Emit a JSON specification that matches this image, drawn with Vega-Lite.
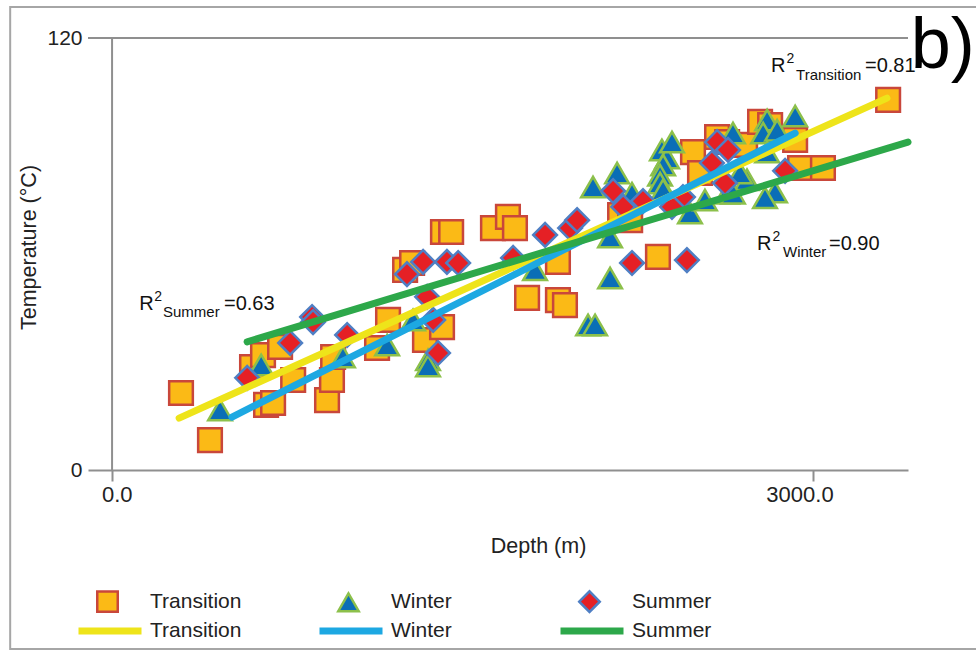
{
  "$schema": "https://vega.github.io/schema/vega-lite/v6.json",
  "width": 820,
  "height": 432,
  "autosize": {"type": "none"},
  "padding": {"left": 88, "top": 38, "right": 68, "bottom": 180},
  "background": "white",
  "config": {
    "view": {"stroke": null},
    "font": "Liberation Sans",
    "axisX": {"domainColor": "#8f8f8f", "domainWidth": 2, "tickColor": "#8f8f8f", "tickWidth": 2, "tickSize": 11, "labelFont": "Liberation Sans", "labelFontSize": 22, "labelColor": "#222", "grid": false, "titleFont": "Liberation Sans", "titleFontSize": 21.5, "titleFontWeight": "normal", "titleColor": "#222", "labelAlign": "right", "labelOffset": 20, "labelPadding": 3, "labelBaseline": "top", "labelFlush": false},
    "axisY": {"domain": false, "ticks": false, "grid": false, "labelFont": "Liberation Sans", "labelFontSize": 21, "labelColor": "#222", "labelPadding": 6, "titleFont": "Liberation Sans", "titleFontSize": 21.5, "titleFontWeight": "normal", "titleColor": "#222"}
  },
  "datasets": {
    "points": [
      {"season": "Transition", "depth": 295, "temp": 21.4},
      {"season": "Transition", "depth": 419, "temp": 8.3},
      {"season": "Transition", "depth": 599, "temp": 28.6},
      {"season": "Transition", "depth": 646, "temp": 31.9},
      {"season": "Transition", "depth": 719, "temp": 34.2},
      {"season": "Transition", "depth": 659, "temp": 18.1},
      {"season": "Transition", "depth": 689, "temp": 18.6},
      {"season": "Transition", "depth": 775, "temp": 25.0},
      {"season": "Transition", "depth": 920, "temp": 19.4},
      {"season": "Transition", "depth": 941, "temp": 25.0},
      {"season": "Transition", "depth": 946, "temp": 31.4},
      {"season": "Transition", "depth": 1134, "temp": 33.9},
      {"season": "Transition", "depth": 1181, "temp": 41.7},
      {"season": "Transition", "depth": 1339, "temp": 36.1},
      {"season": "Transition", "depth": 1412, "temp": 39.7},
      {"season": "Transition", "depth": 1254, "temp": 55.6},
      {"season": "Transition", "depth": 1284, "temp": 57.5},
      {"season": "Transition", "depth": 1416, "temp": 66.1},
      {"season": "Transition", "depth": 1451, "temp": 66.1},
      {"season": "Transition", "depth": 1630, "temp": 67.2},
      {"season": "Transition", "depth": 1694, "temp": 70.3},
      {"season": "Transition", "depth": 1724, "temp": 67.2},
      {"season": "Transition", "depth": 1908, "temp": 57.8},
      {"season": "Transition", "depth": 1776, "temp": 47.8},
      {"season": "Transition", "depth": 1908, "temp": 47.2},
      {"season": "Transition", "depth": 1938, "temp": 45.8},
      {"season": "Transition", "depth": 2336, "temp": 59.2},
      {"season": "Transition", "depth": 2174, "temp": 70.8},
      {"season": "Transition", "depth": 2217, "temp": 69.4},
      {"season": "Transition", "depth": 2486, "temp": 88.3},
      {"season": "Transition", "depth": 2516, "temp": 82.5},
      {"season": "Transition", "depth": 2589, "temp": 92.5},
      {"season": "Transition", "depth": 2632, "temp": 91.1},
      {"season": "Transition", "depth": 2709, "temp": 90.3},
      {"season": "Transition", "depth": 2773, "temp": 96.7},
      {"season": "Transition", "depth": 2816, "temp": 95.8},
      {"season": "Transition", "depth": 2923, "temp": 91.7},
      {"season": "Transition", "depth": 2944, "temp": 83.9},
      {"season": "Transition", "depth": 3042, "temp": 83.9},
      {"season": "Transition", "depth": 3321, "temp": 102.8},
      {"season": "Winter", "depth": 462, "temp": 16.7},
      {"season": "Winter", "depth": 638, "temp": 29.2},
      {"season": "Winter", "depth": 988, "temp": 31.4},
      {"season": "Winter", "depth": 1177, "temp": 34.7},
      {"season": "Winter", "depth": 1352, "temp": 30.6},
      {"season": "Winter", "depth": 1352, "temp": 28.9},
      {"season": "Winter", "depth": 1288, "temp": 41.7},
      {"season": "Winter", "depth": 1810, "temp": 55.6},
      {"season": "Winter", "depth": 2058, "temp": 78.6},
      {"season": "Winter", "depth": 2161, "temp": 82.5},
      {"season": "Winter", "depth": 2131, "temp": 64.7},
      {"season": "Winter", "depth": 2131, "temp": 53.3},
      {"season": "Winter", "depth": 2037, "temp": 40.3},
      {"season": "Winter", "depth": 2067, "temp": 40.3},
      {"season": "Winter", "depth": 2225, "temp": 76.9},
      {"season": "Winter", "depth": 2353, "temp": 88.9},
      {"season": "Winter", "depth": 2375, "temp": 86.7},
      {"season": "Winter", "depth": 2396, "temp": 91.1},
      {"season": "Winter", "depth": 2358, "temp": 84.7},
      {"season": "Winter", "depth": 2345, "temp": 81.9},
      {"season": "Winter", "depth": 2345, "temp": 79.7},
      {"season": "Winter", "depth": 2358, "temp": 77.8},
      {"season": "Winter", "depth": 2473, "temp": 71.4},
      {"season": "Winter", "depth": 2657, "temp": 93.6},
      {"season": "Winter", "depth": 2632, "temp": 76.9},
      {"season": "Winter", "depth": 2717, "temp": 80.6},
      {"season": "Winter", "depth": 2687, "temp": 82.5},
      {"season": "Winter", "depth": 2803, "temp": 97.2},
      {"season": "Winter", "depth": 2786, "temp": 93.6},
      {"season": "Winter", "depth": 2846, "temp": 94.4},
      {"season": "Winter", "depth": 2923, "temp": 98.3},
      {"season": "Winter", "depth": 2837, "temp": 77.2},
      {"season": "Winter", "depth": 2794, "temp": 75.6},
      {"season": "Winter", "depth": 2657, "temp": 76.9},
      {"season": "Winter", "depth": 2803, "temp": 88.3},
      {"season": "Winter", "depth": 2537, "temp": 75.0},
      {"season": "Summer", "depth": 578, "temp": 25.6},
      {"season": "Summer", "depth": 762, "temp": 35.3},
      {"season": "Summer", "depth": 856, "temp": 42.5},
      {"season": "Summer", "depth": 860, "temp": 41.1},
      {"season": "Summer", "depth": 1006, "temp": 37.5},
      {"season": "Summer", "depth": 1262, "temp": 54.4},
      {"season": "Summer", "depth": 1331, "temp": 57.8},
      {"season": "Summer", "depth": 1433, "temp": 57.8},
      {"season": "Summer", "depth": 1481, "temp": 57.5},
      {"season": "Summer", "depth": 1348, "temp": 48.1},
      {"season": "Summer", "depth": 1374, "temp": 41.7},
      {"season": "Summer", "depth": 1395, "temp": 32.5},
      {"season": "Summer", "depth": 1716, "temp": 58.9},
      {"season": "Summer", "depth": 1853, "temp": 65.3},
      {"season": "Summer", "depth": 1960, "temp": 67.2},
      {"season": "Summer", "depth": 1990, "temp": 69.4},
      {"season": "Summer", "depth": 2144, "temp": 77.5},
      {"season": "Summer", "depth": 2187, "temp": 73.1},
      {"season": "Summer", "depth": 2272, "temp": 74.7},
      {"season": "Summer", "depth": 2225, "temp": 57.5},
      {"season": "Summer", "depth": 2460, "temp": 58.3},
      {"season": "Summer", "depth": 2589, "temp": 91.1},
      {"season": "Summer", "depth": 2636, "temp": 88.9},
      {"season": "Summer", "depth": 2567, "temp": 85.3},
      {"season": "Summer", "depth": 2623, "temp": 79.7},
      {"season": "Summer", "depth": 2443, "temp": 75.8},
      {"season": "Summer", "depth": 2396, "temp": 73.1},
      {"season": "Summer", "depth": 2880, "temp": 83.1}
    ],
    "fits": [
      {"season": "Transition", "depth": 287, "temp": 14.4},
      {"season": "Transition", "depth": 3316, "temp": 103.3},
      {"season": "Winter", "depth": 513, "temp": 14.7},
      {"season": "Winter", "depth": 2923, "temp": 93.6},
      {"season": "Summer", "depth": 578, "temp": 35.6},
      {"season": "Summer", "depth": 3406, "temp": 91.1}
    ],
    "notes": [
      {"role": "base", "depth": 2820, "temp": 110.6, "label": "R"},
      {"role": "base", "depth": 3222, "temp": 110.6, "label": "=0.81"},
      {"role": "base", "depth": 2760, "temp": 61.1, "label": "R"},
      {"role": "base", "depth": 3068, "temp": 61.1, "label": "=0.90"},
      {"role": "base", "depth": 116, "temp": 44.4, "label": "R"},
      {"role": "base", "depth": 479, "temp": 44.4, "label": "=0.63"},
      {"role": "sup", "depth": 2886, "temp": 113.1, "label": "2"},
      {"role": "sup", "depth": 2826, "temp": 63.6, "label": "2"},
      {"role": "sup", "depth": 180, "temp": 46.9, "label": "2"},
      {"role": "sub", "depth": 2927, "temp": 108.3, "label": "Transition"},
      {"role": "sub", "depth": 2871, "temp": 59.2, "label": "Winter"},
      {"role": "sub", "depth": 218, "temp": 42.5, "label": "Summer"},
      {"role": "panel", "depth": 3418, "temp": 111.7, "label": "b)"}
    ]
  },
  "layer": [
    {
      "data": {"values": [{}]},
      "mark": {"type": "rect", "fillOpacity": 0, "stroke": "#a6a6a6", "strokeWidth": 2},
      "encoding": {
        "x": {"datum": -436, "type": "quantitative", "scale": {"domain": [-103, 3406], "nice": false, "zero": false}},
        "x2": {"datum": 3800},
        "y": {"datum": 128.6, "type": "quantitative", "scale": {"domain": [0, 120], "nice": false}},
        "y2": {"datum": -49.7}
      }
    },
    {
      "data": {"values": [{}]},
      "mark": {"type": "rule", "color": "#8f8f8f", "strokeWidth": 2},
      "encoding": {"y": {"datum": 120, "type": "quantitative", "scale": {"domain": [0, 120], "nice": false}}}
    },
    {
      "data": {"values": [{}]},
      "mark": {"type": "rule", "color": "#8f8f8f", "strokeWidth": 2},
      "encoding": {"x": {"datum": 0, "type": "quantitative", "scale": {"domain": [-103, 3406], "nice": false, "zero": false}}}
    },
    {
      "data": {"name": "points"},
      "mark": {"type": "point", "filled": true, "size": 560, "strokeWidth": 2.5, "opacity": 1},
      "encoding": {
        "x": {"field": "depth", "type": "quantitative", "scale": {"domain": [-103, 3406], "nice": false, "zero": false},
              "axis": {"values": [0, 3000], "format": ".1f", "title": "Depth (m)", "titleX": 450, "titleY": 76, "titleAlign": "center", "titleBaseline": "middle"}},
        "y": {"field": "temp", "type": "quantitative", "scale": {"domain": [0, 120], "nice": false},
              "axis": {"values": [0, 120], "format": "d", "title": "Temperature (°C)", "titleX": -59, "titleY": 209, "titleAngle": 270, "titleAlign": "center", "titleBaseline": "middle"}},
        "color": {"field": "season", "type": "nominal",
                  "scale": {"domain": ["Transition", "Winter", "Summer"], "range": ["#FBBA16", "#0A6EB6", "#E52025"]},
                  "legend": {"title": null, "orient": "none", "legendX": 8, "legendY": 552, "direction": "horizontal", "columns": 3, "gridAlign": "all", "columnPadding": 91, "symbolSize": 420, "symbolStrokeWidth": 2.5, "labelFont": "Liberation Sans", "labelFontSize": 21, "labelColor": "#222", "labelOffset": 31, "padding": 0}},
        "stroke": {"field": "season", "type": "nominal",
                   "scale": {"domain": ["Transition", "Winter", "Summer"], "range": ["#C9473B", "#8CC04B", "#4F7FC4"]},
                   "legend": {"title": null, "orient": "none", "legendX": 8, "legendY": 552, "direction": "horizontal", "columns": 3, "gridAlign": "all", "columnPadding": 91, "symbolSize": 420, "symbolStrokeWidth": 2.5, "labelFont": "Liberation Sans", "labelFontSize": 21, "labelColor": "#222", "labelOffset": 31, "padding": 0}},
        "shape": {"field": "season", "type": "nominal",
                  "scale": {"domain": ["Transition", "Winter", "Summer"], "range": ["square", "triangle-up", "diamond"]},
                  "legend": {"title": null, "orient": "none", "legendX": 8, "legendY": 552, "direction": "horizontal", "columns": 3, "gridAlign": "all", "columnPadding": 91, "symbolSize": 420, "symbolStrokeWidth": 2.5, "labelFont": "Liberation Sans", "labelFontSize": 21, "labelColor": "#222", "labelOffset": 31, "padding": 0}}
      }
    },
    {
      "data": {"name": "fits"},
      "mark": {"type": "line", "strokeWidth": 7, "strokeCap": "round"},
      "encoding": {
        "x": {"field": "depth", "type": "quantitative", "scale": {"domain": [-103, 3406], "nice": false, "zero": false}},
        "y": {"field": "temp", "type": "quantitative", "scale": {"domain": [0, 120], "nice": false}},
        "color": {"field": "season", "type": "nominal",
                  "scale": {"domain": ["Transition", "Winter", "Summer"], "range": ["#EEE41A", "#1DA8E2", "#2DA84A"]},
                  "legend": {"title": null, "orient": "none", "legendX": -13, "legendY": 558, "direction": "horizontal", "columns": 3, "gridAlign": "all", "columnPadding": 63, "symbolType": "stroke", "symbolSize": 3969, "symbolStrokeWidth": 7, "labelFont": "Liberation Sans", "labelFontSize": 21, "labelColor": "#222", "labelOffset": 5, "padding": 0}}
      }
    },
    {
      "data": {"name": "notes"},
      "transform": [{"filter": "datum.role === 'base'"}],
      "mark": {"type": "text", "align": "left", "baseline": "alphabetic", "fontSize": 20, "font": "Liberation Sans", "color": "#111"},
      "encoding": {
        "x": {"field": "depth", "type": "quantitative", "scale": {"domain": [-103, 3406], "nice": false, "zero": false}},
        "y": {"field": "temp", "type": "quantitative", "scale": {"domain": [0, 120], "nice": false}},
        "text": {"field": "label"}
      }
    },
    {
      "data": {"name": "notes"},
      "transform": [{"filter": "datum.role === 'sup'"}],
      "mark": {"type": "text", "align": "left", "baseline": "alphabetic", "fontSize": 14, "font": "Liberation Sans", "color": "#111"},
      "encoding": {
        "x": {"field": "depth", "type": "quantitative", "scale": {"domain": [-103, 3406], "nice": false, "zero": false}},
        "y": {"field": "temp", "type": "quantitative", "scale": {"domain": [0, 120], "nice": false}},
        "text": {"field": "label"}
      }
    },
    {
      "data": {"name": "notes"},
      "transform": [{"filter": "datum.role === 'sub'"}],
      "mark": {"type": "text", "align": "left", "baseline": "alphabetic", "fontSize": 15, "font": "Liberation Sans", "color": "#111"},
      "encoding": {
        "x": {"field": "depth", "type": "quantitative", "scale": {"domain": [-103, 3406], "nice": false, "zero": false}},
        "y": {"field": "temp", "type": "quantitative", "scale": {"domain": [0, 120], "nice": false}},
        "text": {"field": "label"}
      }
    },
    {
      "data": {"name": "notes"},
      "transform": [{"filter": "datum.role === 'panel'"}],
      "mark": {"type": "text", "align": "left", "baseline": "alphabetic", "fontSize": 72, "font": "Liberation Sans", "color": "#000"},
      "encoding": {
        "x": {"field": "depth", "type": "quantitative", "scale": {"domain": [-103, 3406], "nice": false, "zero": false}},
        "y": {"field": "temp", "type": "quantitative", "scale": {"domain": [0, 120], "nice": false}},
        "text": {"field": "label"}
      }
    }
  ],
  "resolve": {
    "scale": {"color": "independent", "shape": "independent", "stroke": "independent"},
    "legend": {"color": "independent", "shape": "independent", "stroke": "independent"}
  }
}
